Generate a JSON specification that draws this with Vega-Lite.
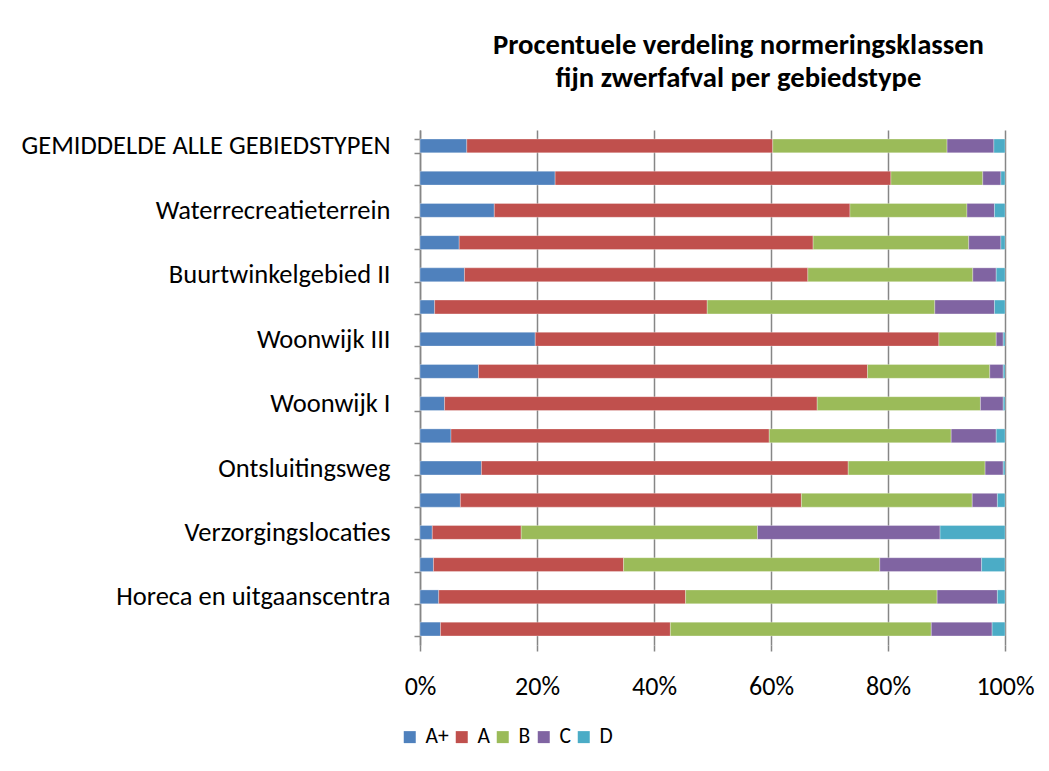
{
  "$schema": "https://vega.github.io/schema/vega-lite/v6.json",
  "width": 585,
  "height": 515,
  "autosize": {"type": "none"},
  "padding": {"left": 420, "top": 130, "right": 44, "bottom": 126},
  "background": "white",
  "config": {
    "font": "Carlito, Lato",
    "view": {"stroke": null}
  },
  "title": {
    "text": ["Procentuele verdeling  normeringsklassen", "fijn zwerfafval per gebiedstype"],
    "font": "Carlito, Lato",
    "fontSize": 28.7,
    "fontWeight": "bold",
    "color": "black",
    "anchor": "middle",
    "dx": 26,
    "offset": 24,
    "lineHeight": 33
  },
  "data": {
    "values": [
      {"g": "GEMIDDELDE ALLE GEBIEDSTYPEN", "A+": 8.0, "A": 52.3, "B": 29.8, "C": 8.0, "D": 1.9},
      {"g": "Parken en groen", "A+": 23.1, "A": 57.4, "B": 15.7, "C": 3.1, "D": 0.7},
      {"g": "Waterrecreatieterrein", "A+": 12.7, "A": 60.8, "B": 20.0, "C": 4.7, "D": 1.8},
      {"g": "Buurtwinkelgebied III", "A+": 6.7, "A": 60.5, "B": 26.6, "C": 5.5, "D": 0.7},
      {"g": "Buurtwinkelgebied II", "A+": 7.6, "A": 58.7, "B": 28.2, "C": 4.0, "D": 1.5},
      {"g": "Buurtwinkelgebied I", "A+": 2.5, "A": 46.6, "B": 38.9, "C": 10.2, "D": 1.8},
      {"g": "Woonwijk III", "A+": 19.7, "A": 69.0, "B": 9.8, "C": 1.2, "D": 0.3},
      {"g": "Woonwijk II", "A+": 10.0, "A": 66.5, "B": 20.9, "C": 2.3, "D": 0.3},
      {"g": "Woonwijk I", "A+": 4.2, "A": 63.7, "B": 27.9, "C": 3.9, "D": 0.3},
      {"g": "Bedrijventerrein", "A+": 5.3, "A": 54.4, "B": 31.1, "C": 7.7, "D": 1.5},
      {"g": "Ontsluitingsweg", "A+": 10.5, "A": 62.7, "B": 23.4, "C": 3.1, "D": 0.3},
      {"g": "Hoofdweg", "A+": 6.9, "A": 58.3, "B": 29.2, "C": 4.3, "D": 1.3},
      {"g": "Verzorgingslocaties", "A+": 2.1, "A": 15.2, "B": 40.4, "C": 31.2, "D": 11.1},
      {"g": "Stationsgebied", "A+": 2.3, "A": 32.5, "B": 43.8, "C": 17.4, "D": 4.0},
      {"g": "Horeca en uitgaanscentra", "A+": 3.2, "A": 42.2, "B": 43.0, "C": 10.3, "D": 1.3},
      {"g": "Kernwinkelgebied", "A+": 3.5, "A": 39.3, "B": 44.6, "C": 10.4, "D": 2.2}
    ]
  },
  "transform": [
    {"fold": ["A+", "A", "B", "C", "D"], "as": ["k", "v"]},
    {"calculate": "indexof(['A+','A','B','C','D'], datum.k)", "as": "o"}
  ],
  "mark": {"type": "bar", "stroke": "white", "strokeWidth": 0.5, "strokeOpacity": 0.6},
  "encoding": {
    "y": {
      "field": "g",
      "type": "nominal",
      "sort": null,
      "title": null,
      "scale": {"paddingInner": 0.57, "paddingOuter": 0.28},
      "axis": {
        "domain": true,
        "domainColor": "#868686",
        "domainWidth": 1.5,
        "ticks": true,
        "tickBand": "extent",
        "tickColor": "#868686",
        "tickWidth": 1.5,
        "tickSize": 6,
        "labelPadding": 24,
        "labelFontSize": 26.5,
        "labelLimit": 0,
        "labelColor": "black",
        "labelFont": "Carlito, Lato",
        "labelExpr": "indexof(['GEMIDDELDE ALLE GEBIEDSTYPEN','Waterrecreatieterrein','Buurtwinkelgebied II','Woonwijk III','Woonwijk I','Ontsluitingsweg','Verzorgingslocaties','Horeca en uitgaanscentra'], datum.value) >= 0 ? datum.value : ''"
      }
    },
    "x": {
      "field": "v",
      "type": "quantitative",
      "stack": "normalize",
      "title": null,
      "scale": {"domain": [0, 1]},
      "axis": {
        "format": ".0%",
        "values": [0, 0.2, 0.4, 0.6, 0.8, 1],
        "domain": false,
        "grid": true,
        "gridColor": "#868686",
        "gridWidth": 1.5,
        "ticks": true,
        "tickColor": "#868686",
        "tickWidth": 1.5,
        "tickSize": 6,
        "labelPadding": 22,
        "labelFlush": false,
        "labelFontSize": 26,
        "labelColor": "black",
        "labelFont": "Carlito, Lato"
      }
    },
    "color": {
      "field": "k",
      "type": "nominal",
      "sort": ["A+", "A", "B", "C", "D"],
      "scale": {"domain": ["A+", "A", "B", "C", "D"], "range": ["#4F81BD", "#C0504D", "#9BBB59", "#8064A2", "#4BACC6"]},
      "legend": {
        "title": null,
        "orient": "none",
        "direction": "horizontal",
        "legendX": -21,
        "legendY": 596,
        "symbolType": "square",
        "symbolSize": 144,
        "symbolStrokeWidth": 0,
        "labelFontSize": 21.5,
        "labelFont": "Carlito, Lato",
        "labelColor": "black",
        "columnPadding": 2,
        "labelOffset": 5
      }
    },
    "order": {"field": "o", "type": "quantitative"}
  }
}
